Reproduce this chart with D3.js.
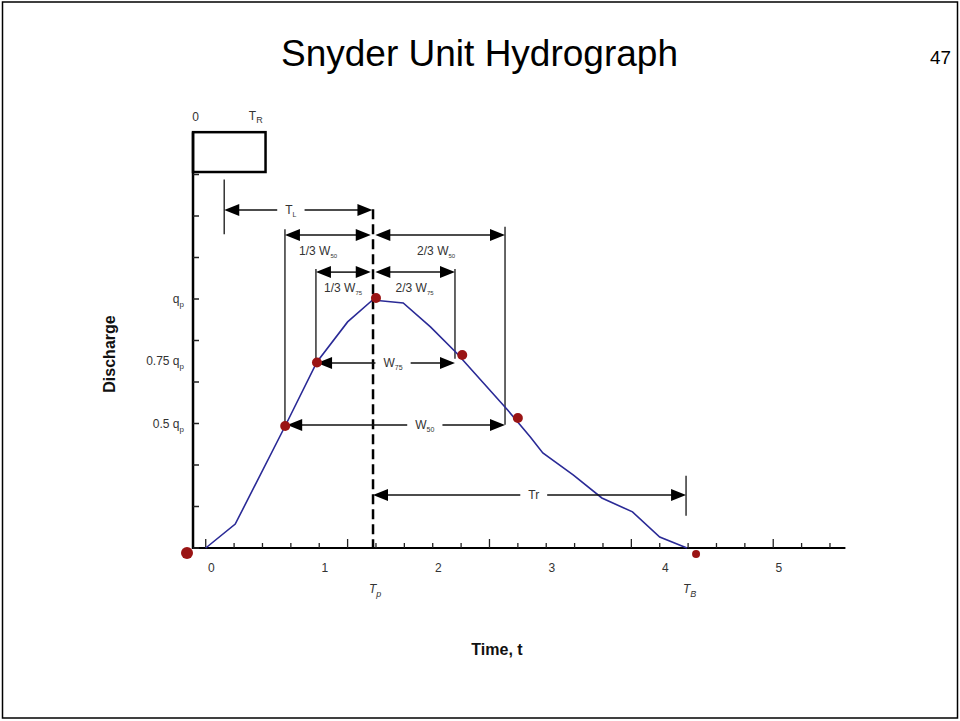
<!DOCTYPE html>
<meta charset="utf-8">
<style>
  body { margin: 0; background: #fff; }
  text { font-family: "Liberation Sans", Arial, sans-serif; }
</style>
<script src="https://cdn.jsdelivr.net/npm/d3@7"></script>
<div id="chart"></div>
<script>
// hydrograph curve, time t and discharge as a fraction of qp
var curveT = [-0.05, 0.21, 0.65, 0.93, 1.20, 1.42, 1.69, 1.93, 2.16, 2.61, 2.81, 2.92, 3.19, 3.44, 3.71, 3.95, 4.19];
var curveQ = [0, 0.096, 0.49, 0.747, 0.908, 0.996, 0.984, 0.888, 0.783, 0.554, 0.446, 0.382, 0.293, 0.201, 0.145, 0.044, 0];

// red marker points
var dotT = [-0.215, 0.65, 0.93, 1.45, 2.21, 2.70, 4.27];
var dotQ = [-0.02, 0.49, 0.745, 1.004, 0.775, 0.522, -0.024];
var dotR = [6, 5, 5, 5, 5, 5, 4];

// key times
var tp = 1.424, tb = 4.19, tStartL = 0.113;
var w50Left = 0.648, w50Right = 2.587;
var w75Left = 0.921, w75Right = 2.146;
var trEnd = 4.182;

var xTickLabels = [0, 1, 2, 3, 4, 5];
var yTickQ = [0.5, 0.75, 1];
var yTickText = ["0.5 q", "0.75 q", "q"];

var svg = d3.select("#chart").append("svg")
    .attr("width", 960).attr("height", 721);

// slide frame
svg.append("rect")
    .attr("x", 2.5).attr("y", 2).attr("width", 955).attr("height", 716)
    .attr("fill", "none").attr("stroke", "#000").attr("stroke-width", 1.5);

svg.append("text")
    .attr("x", 281).attr("y", 66)
    .attr("textLength", 397).attr("lengthAdjust", "spacingAndGlyphs")
    .style("font-size", "37px").attr("fill", "#000")
    .text("Snyder Unit Hydrograph");

svg.append("text")
    .attr("x", 930).attr("y", 64)
    .attr("textLength", 21).attr("lengthAdjust", "spacingAndGlyphs")
    .style("font-size", "19px").attr("fill", "#000")
    .text("47");

var x = d3.scaleLinear().domain([0, 5]).range([211.4, 778.9]);
var y = d3.scaleLinear().domain([0, 1]).range([548, 299]);

var g = svg.append("g");

// x axis: minor ticks every 0.25, taller every fifth
var minorTicks = d3.range(0, 23).map(function(k) { return -0.05 + 0.25 * k; });
g.append("line")
    .attr("x1", x(-0.162)).attr("x2", x(5.586))
    .attr("y1", y(0)).attr("y2", y(0))
    .attr("stroke", "#000").attr("stroke-width", 2);
g.selectAll(".xt").data(minorTicks).enter().append("line")
    .attr("x1", function(d) { return x(d); }).attr("x2", function(d) { return x(d); })
    .attr("y1", y(0))
    .attr("y2", function(d, i) { return y(0) - (i % 5 === 0 ? 9 : 5); })
    .attr("stroke", "#222").attr("stroke-width", 1.3);
g.selectAll(".xl").data(xTickLabels).enter().append("text")
    .attr("x", function(d) { return x(d); }).attr("y", y(0) + 24)
    .attr("text-anchor", "middle").style("font-size", "12px").attr("fill", "#333")
    .text(function(d) { return d; });

// y axis
var yTicks = d3.range(0, 10).map(function(k) { return k / 6; });
g.append("line")
    .attr("x1", x(-0.162)).attr("x2", x(-0.162))
    .attr("y1", y(0) + 1).attr("y2", y(1.67))
    .attr("stroke", "#000").attr("stroke-width", 2.5);
g.selectAll(".yt").data(yTicks).enter().append("line")
    .attr("x1", x(-0.162)).attr("x2", x(-0.162) + 6)
    .attr("y1", function(d) { return y(d); }).attr("y2", function(d) { return y(d); })
    .attr("stroke", "#222").attr("stroke-width", 1.5);
var yl = g.selectAll(".yl").data(yTickQ).enter().append("text")
    .attr("x", 184).attr("y", function(d) { return y(d) + 4; })
    .attr("text-anchor", "end").style("font-size", "12px").attr("fill", "#333");
yl.append("tspan").text(function(d, i) { return yTickText[i]; });
yl.append("tspan").attr("dy", 4).style("font-size", "8px").text("p");

// rainfall duration box
g.append("rect")
    .attr("x", x(-0.162)).attr("y", y(1.67))
    .attr("width", x(0.477) - x(-0.162)).attr("height", y(1.51) - y(1.67))
    .attr("fill", "none").attr("stroke", "#000").attr("stroke-width", 2.5);
g.append("text").attr("x", x(-0.14)).attr("y", y(1.67) - 11)
    .attr("text-anchor", "middle").style("font-size", "12px").attr("fill", "#333").text("0");
var tr = g.append("text").attr("x", x(0.33)).attr("y", y(1.67) - 12)
    .style("font-size", "12px").attr("fill", "#333");
tr.append("tspan").text("T");
tr.append("tspan").attr("dy", 3).style("font-size", "9px").text("R");

// vertical guide lines
var guides = [
    [tStartL, 1.48, 1.26],
    [w50Left, 1.28, 0.49],
    [w50Right, 1.29, 0.495],
    [w75Left, 1.12, 0.745],
    [w75Right, 1.12, 0.76],
    [trEnd, 0.29, 0.13]
];
g.selectAll(".guide").data(guides).enter().append("line")
    .attr("x1", function(d) { return x(d[0]); }).attr("x2", function(d) { return x(d[0]); })
    .attr("y1", function(d) { return y(d[1]); }).attr("y2", function(d) { return y(d[2]); })
    .attr("stroke", "#333").attr("stroke-width", 1.5);

// hydrograph
g.append("path")
    .datum(curveT.map(function(t, i) { return [t, curveQ[i]]; }))
    .attr("d", d3.line().x(function(d) { return x(d[0]); }).y(function(d) { return y(d[1]); }))
    .attr("fill", "none").attr("stroke", "#2a2a96").attr("stroke-width", 1.6);

// Tp dashed line
g.append("line")
    .attr("x1", x(tp)).attr("x2", x(tp))
    .attr("y1", y(1.36)).attr("y2", y(0))
    .attr("stroke", "#000").attr("stroke-width", 2.5)
    .attr("stroke-dasharray", "10,5");

// dimension arrows with a label
function arrow(t1, t2, q, label, sub, labelT, below) {
    var x1 = x(t1), x2 = x(t2), yy = y(q), L = 15, H = 6;
    g.append("line").attr("x1", x1 + L - 1).attr("x2", x2 - L + 1)
        .attr("y1", yy).attr("y2", yy).attr("stroke", "#111").attr("stroke-width", 1.5);
    g.append("path").attr("d", "M" + x1 + "," + yy + "L" + (x1 + L) + "," + (yy - H) + "L" + (x1 + L) + "," + (yy + H) + "Z")
        .attr("fill", "#000");
    g.append("path").attr("d", "M" + x2 + "," + yy + "L" + (x2 - L) + "," + (yy - H) + "L" + (x2 - L) + "," + (yy + H) + "Z")
        .attr("fill", "#000");
    var tx = g.append("text").attr("x", x(labelT)).attr("y", below ? yy + 20 : yy + 4)
        .attr("text-anchor", "middle").style("font-size", "12px").attr("fill", "#333");
    tx.append("tspan").text(label);
    tx.append("tspan").attr("dy", 3).style("font-size", below ? "6px" : "7px").text(sub);
    if (!below) {
        var bb = tx.node().getBBox();
        g.insert("rect", function() { return tx.node(); })
            .attr("x", bb.x - 8).attr("y", bb.y).attr("width", bb.width + 16).attr("height", bb.height)
            .attr("fill", "#fff");
    }
}
arrow(tStartL, tp - 0.005, 1.357, "T", "L", 0.70, false);
arrow(w50Left, tp - 0.02, 1.257, "1/3 W", "50", 0.94, true);
arrow(tp + 0.02, w50Right, 1.257, "2/3 W", "50", 1.98, true);
arrow(w75Left, tp - 0.02, 1.108, "1/3 W", "75", 1.16, true);
arrow(tp + 0.02, w75Right, 1.108, "2/3 W", "75", 1.79, true);
arrow(w75Left + 0.01, w75Right, 0.743, "W", "75", 1.60, false);
arrow(w50Left + 0.02, w50Right, 0.494, "W", "50", 1.88, false);
arrow(tp, trEnd, 0.213, "Tr", "", 2.84, false);

// red markers
g.selectAll(".dot").data(dotT).enter().append("circle")
    .attr("cx", function(d) { return x(d); })
    .attr("cy", function(d, i) { return y(dotQ[i]); })
    .attr("r", function(d, i) { return dotR[i]; })
    .attr("fill", "#9a1414");

// Tp, TB labels
[[tp, "p"], [tb, "B"]].forEach(function(d) {
    var t = g.append("text").attr("x", x(d[0]) - 4).attr("y", y(0) + 45)
        .style("font-size", "12px").style("font-style", "italic").attr("fill", "#333");
    t.append("tspan").text("T");
    t.append("tspan").attr("dy", 4).style("font-size", "9px").text(d[1]);
});

// axis titles
svg.append("text")
    .attr("transform", "translate(115,354) rotate(-90)")
    .attr("text-anchor", "middle").style("font-size", "16px").style("font-weight", "bold")
    .attr("fill", "#111").text("Discharge");
svg.append("text")
    .attr("x", 497).attr("y", 655)
    .attr("text-anchor", "middle").style("font-size", "16px").style("font-weight", "bold")
    .attr("fill", "#111").text("Time, t");
</script>
